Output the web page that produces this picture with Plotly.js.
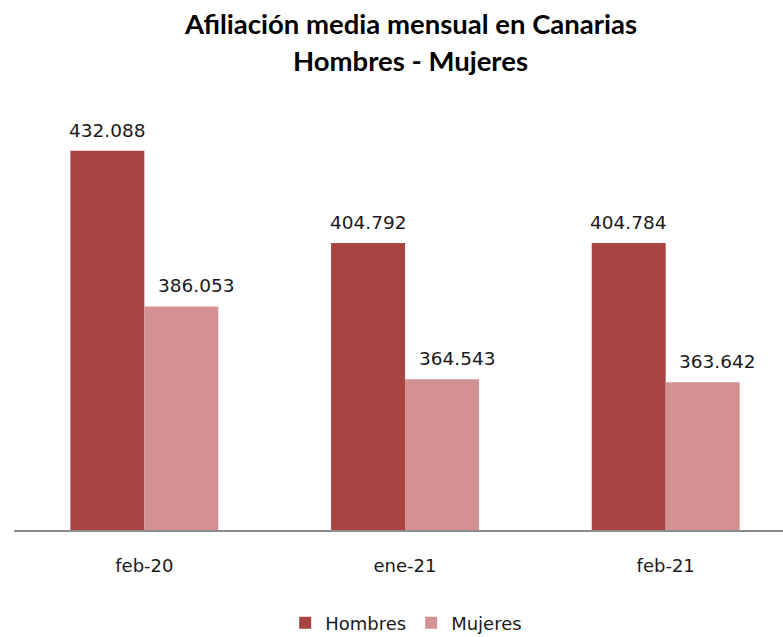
<!DOCTYPE html>
<html>
<head>
<meta charset="utf-8">
<script src="https://cdn.plot.ly/plotly-3.0.1.min.js"></script>
<style>html,body{margin:0;padding:0;background:#fff;}#chart{width:783px;height:637px;}</style>
</head>
<body>
<div id="chart"></div>
<script>
var categories = ["feb-20", "ene-21", "feb-21"];
var hombres = [432088, 404792, 404784];
var mujeres = [386053, 364543, 363642];
var seriesNames = ["Hombres", "Mujeres"];

function fmt(v) {
  return String(v).replace(/\B(?=(\d{3})+(?!\d))/g, ".");
}

var colH = "#A84542";
var colM = "#D39191";
var baseFont = "DejaVu Sans, Verdana, sans-serif";
var labelFont = {family: baseFont, size: 18.5, color: "#1a1a1a"};
var titleFont = {family: "Lato, Liberation Sans, sans-serif", size: 27.5, color: "#000"};

var traces = [
  {type: "bar", name: seriesNames[0], x: categories, y: hombres, marker: {color: colH}, hoverinfo: "none"},
  {type: "bar", name: seriesNames[1], x: categories, y: mujeres, marker: {color: colM}, hoverinfo: "none"}
];

var annotations = [];
var series = [hombres, mujeres];
var shifts = [-37, 52];
for (var s = 0; s < series.length; s++) {
  for (var i = 0; i < categories.length; i++) {
    annotations.push({
      x: categories[i], y: series[s][i], xref: "x", yref: "y",
      text: fmt(series[s][i]), showarrow: false,
      xanchor: "center", yanchor: "bottom",
      xshift: shifts[s], yshift: 8,
      font: labelFont
    });
  }
}
annotations.push({
  xref: "paper", yref: "paper", x: 0.515, y: 0, yshift: 530 - 23,
  text: "<b>Afiliación media mensual en Canarias</b>", showarrow: false,
  xanchor: "center", yanchor: "middle", font: titleFont
});
annotations.push({
  xref: "paper", yref: "paper", x: 0.515, y: 0, yshift: 530 - 60,
  text: "<b>Hombres - Mujeres</b>", showarrow: false,
  xanchor: "center", yanchor: "middle", font: titleFont
});

var layout = {
  width: 783, height: 637,
  margin: {l: 13.5, r: 0, t: 90, b: 107},
  paper_bgcolor: "#fff", plot_bgcolor: "#fff",
  barmode: "group", bargap: 0.4325, bargroupgap: 0,
  showlegend: true,
  legend: {orientation: "h", x: 0.51, xanchor: "center", yref: "container", y: 0.022, yanchor: "middle",
           font: {family: baseFont, size: 18, color: "#1a1a1a"},
           itemwidth: 30, tracegroupgap: 0},
  xaxis: {
    type: "category", range: [-0.5, 2.45], showline: true, linecolor: "#8c8c8c", linewidth: 2,
    ticks: "outside", ticklen: 18, tickcolor: "rgba(0,0,0,0)", showgrid: false, zeroline: false,
    tickfont: {family: baseFont, size: 18, color: "#1a1a1a"}
  },
  yaxis: {range: [320000, 450000], visible: false, showgrid: false, zeroline: false},
  annotations: annotations
};

Plotly.newPlot("chart", traces, layout, {displayModeBar: false, staticPlot: true});
</script>
</body>
</html>
